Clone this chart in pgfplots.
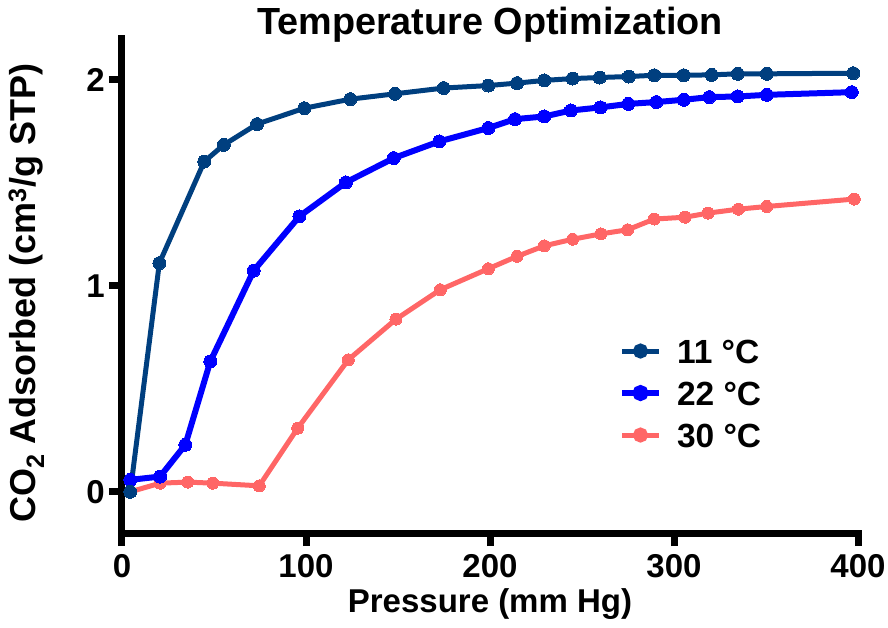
\documentclass[border=0pt]{standalone}
\usepackage{fontspec}
\setmainfont{Liberation Sans}
\usepackage{pgfplots}
\pgfplotsset{compat=1.18}
\definecolor{c11}{RGB}{0,63,127}
\definecolor{c22}{RGB}{0,0,255}
\definecolor{c30}{RGB}{255,102,102}
\begin{document}
\begin{tikzpicture}
\begin{axis}[
  name=ax,
  scale only axis,
  width=736pt, height=494.4pt,
  xmin=0, xmax=400, ymin=-0.2, ymax=2.2,
  axis lines=left,
  axis line style={-, line width=7pt, line cap=rect, black},
  xtick={0,100,200,300,400}, ytick={0,1,2},
  tick align=outside,
  major tick length=13pt,
  tick style={line width=7pt, black},
  /pgf/number format/assume math mode=true,
  tick label style={font=\fontsize{33}{38}\selectfont\bfseries, inner sep=0pt},
  xticklabel style={yshift=-8pt},
  yticklabel style={xshift=-4pt},
  clip=false,
  every axis title shift/.style={yshift=0pt},
  title={Temperature Optimization},
  title style={at={(axis description cs:0.5,1)}, anchor=base, yshift=-2pt, font=\fontsize{37.8}{42}\selectfont\bfseries, inner sep=0pt},
  xlabel={Pressure (mm Hg)},
  xlabel style={at={(axis description cs:0.5,0)}, anchor=base, yshift=-79pt, font=\fontsize{33}{38}\selectfont\bfseries, inner sep=0pt},
  ylabel={CO\textsubscript{2} Adsorbed (cm\textsuperscript{3}/g STP)},
  ylabel style={at={(axis description cs:-0.118,0.485)}, anchor=base, rotate=0, font=\fontsize{36}{40}\selectfont\bfseries, inner sep=0pt},
  reverse legend,
  legend style={at={(axis cs:270,0.745)}, anchor=north west, draw=none, fill=none, inner sep=0pt,
    font=\fontsize{33.5}{38}\selectfont\bfseries, row sep=17pt, column sep=15pt,
    nodes={inner sep=0pt, text height=25pt, text depth=0pt}},
  legend cell align=left,
  legend image code/.code={\draw[solid] (0pt,0pt) -- (37pt,0pt); \fill[solid] (18.5pt,0pt) circle (5pt);},
]
\addplot[color=c30, line width=5pt, mark=*, mark size=6pt, mark options={solid, line width=0pt}] coordinates {
(4.5,0.0) (20.8,0.042) (35.7,0.047) (49.3,0.042) (74.6,0.029) (95.5,0.309) (123,0.641) (148.9,0.838)
(173,0.981) (199.1,1.083) (214.7,1.143) (229.5,1.194) (244.9,1.226) (260.3,1.252) (274.8,1.272)
(289.3,1.324) (306,1.333) (318.6,1.353) (335,1.372) (350.4,1.385) (398,1.421)
};
\addlegendentry{30 °C}
\addplot[color=c22, line width=6pt, mark=*, mark size=6.5pt, mark options={solid, line width=0pt}] coordinates {
(4.5,0.058) (20.7,0.074) (34.4,0.228) (48,0.633) (71.6,1.074) (96.4,1.337) (121.7,1.502) (147.7,1.620)
(172.5,1.701) (199.1,1.766) (213.6,1.809) (229.5,1.822) (244,1.851) (260,1.866) (275.2,1.883)
(290.4,1.892) (305.3,1.903) (319.2,1.916) (334.6,1.919) (350.4,1.927) (396.6,1.940)
};
\addlegendentry{22 °C}
\addplot[color=c11, line width=5pt, mark=*, mark size=6.5pt, mark options={solid, line width=0pt}] coordinates {
(4.5,0.0) (20.3,1.110) (44.7,1.603) (55.3,1.684) (73.4,1.785) (99.1,1.862) (124.1,1.906) (148.4,1.932)
(174.8,1.960) (199.1,1.972) (214.7,1.984) (229.5,1.997) (244.9,2.006) (259.6,2.011) (275.5,2.016)
(289.3,2.022) (305.3,2.022) (320.5,2.024) (334.6,2.029) (350.4,2.029) (397.4,2.032)
};
\addlegendentry{11 °C}
\end{axis}
\pgfresetboundingbox
\path ([shift={(-122pt,-94pt)}]ax.south west) rectangle ([shift={(30pt,38.6pt)}]ax.north east);
\end{tikzpicture}
\end{document}
